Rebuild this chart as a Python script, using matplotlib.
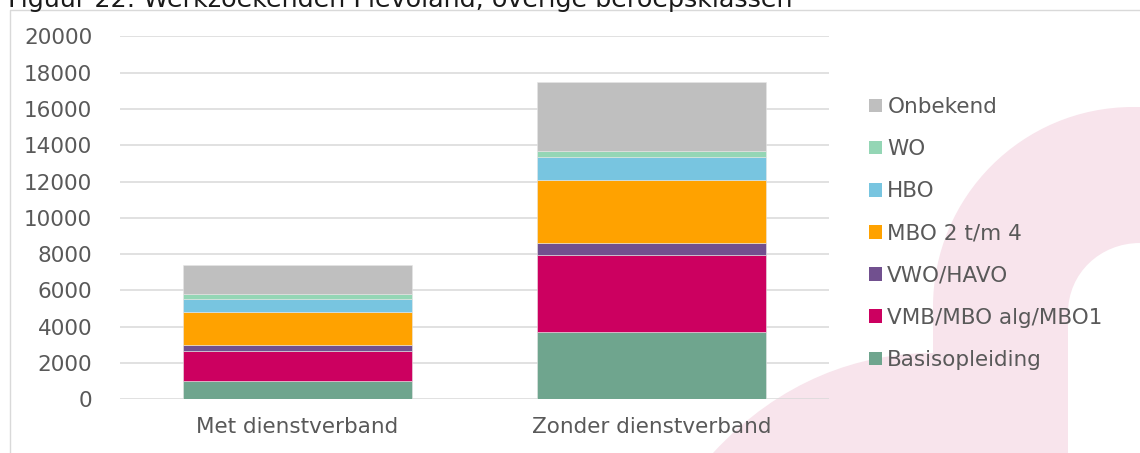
import numpy as np
import matplotlib
matplotlib.use("Agg")
import matplotlib.pyplot as plt
from matplotlib.path import Path
from matplotlib.patches import PathPatch
from matplotlib.lines import Line2D
from matplotlib.patches import Patch

W, H = 1140, 453

categories = ["Met dienstverband", "Zonder dienstverband"]
levels = ["Basisopleiding", "VMB/MBO alg/MBO1", "VWO/HAVO", "MBO 2 t/m 4",
          "HBO", "WO", "Onbekend"]
basis = [1000, 3690]
vmb = [1670, 4260]
vwo = [300, 680]
mbo = [1850, 3470]
hbo = [720, 1250]
wo = [240, 350]
onbekend = [1620, 3800]
series = [basis, vmb, vwo, mbo, hbo, wo, onbekend]
colors = ["#6fa58e", "#cc0060", "#71508f", "#ffa200", "#78c5e0", "#94d6b5", "#bfbfbf"]

yticks = list(range(0, 20001, 2000))

plt.rcParams['font.family'] = ['DejaVu Sans']
FS = 15.5
GREY = "#595959"

def px(x, y):
    # pixel position (from top left) -> figure fraction
    return (x / W, 1 - y / H)

fig = plt.figure(figsize=(W / 100, H / 100), dpi=100)

# pink watermark behind the chart
M, L, C = Path.MOVETO, Path.LINETO, Path.CURVE4
k = 0.5523
pts = [(713, 453), (780, 380), (860, 353), (933, 353),
       (933, 307),
       (933, 307 - 200 * k), (1133 - 200 * k, 107), (1133, 107),
       (1140, 107), (1140, 243),
       (1140 - 72 * k, 243), (1068, 313 - 72 * k), (1068, 313),
       (1068, 453), (713, 453)]
codes = [M, C, C, C, L, C, C, C, L, L, C, C, C, L, L]
verts = [px(x, y) for x, y in pts]
wm = PathPatch(Path(verts, codes), facecolor="#f8e4ec", edgecolor="none",
               transform=fig.transFigure, zorder=-2)
fig.patches.append(wm)

# outer frame
fx = [px(10.5, 453)[0], px(10.5, 9.5)[0], 1.0]
fy = [0.0, px(10.5, 9.5)[1], px(10.5, 9.5)[1]]
fig.lines.append(Line2D(fx, fy, color="#d9d9d9", lw=1.0, transform=fig.transFigure))

fig.text(px(8, 0)[0], px(0, 7)[1], "Figuur 22: Werkzoekenden Flevoland, overige beroepsklassen",
         fontsize=18.3, color="#1a1a1a", va="baseline", ha="left")

x0, y0 = px(120, 399.3)
x1, y1 = px(829, 36.3)
ax = fig.add_axes([x0, y0, x1 - x0, y1 - y0])
ax.set_facecolor("none")

x = np.arange(len(categories))
bottom = np.zeros(len(categories))
for vals, col, lab in zip(series, colors, levels):
    ax.bar(x, vals, 0.646, bottom=bottom, color=col, label=lab,
           edgecolor="#e6e6e6", linewidth=0.4, zorder=3)
    bottom += np.array(vals)

ax.set_xlim(-0.5, 1.5)
ax.set_ylim(0, 20000)
ax.set_yticks(yticks)
ax.set_yticklabels([str(v) for v in yticks])
ax.set_xticks(x)
ax.set_xticklabels(categories)
ax.yaxis.grid(True, color="#d9d9d9", lw=1.1, zorder=0)
ax.set_axisbelow(True)
for s in ax.spines.values():
    s.set_visible(False)
ax.tick_params(axis="both", length=0, labelsize=FS, labelcolor=GREY)
ax.tick_params(axis="y", pad=20)
ax.tick_params(axis="x", pad=13)

handles = [Patch(facecolor=c, edgecolor="none") for c in colors][::-1]
leg = fig.legend(handles, levels[::-1], loc="upper left",
                 bbox_to_anchor=px(869, 97), frameon=False, fontsize=FS,
                 handlelength=0.6, handleheight=0.6, handletextpad=0.25,
                 labelspacing=1.03, borderpad=0, borderaxespad=0)
for t in leg.get_texts():
    t.set_color(GREY)

fig.savefig("out.png", dpi=100)
